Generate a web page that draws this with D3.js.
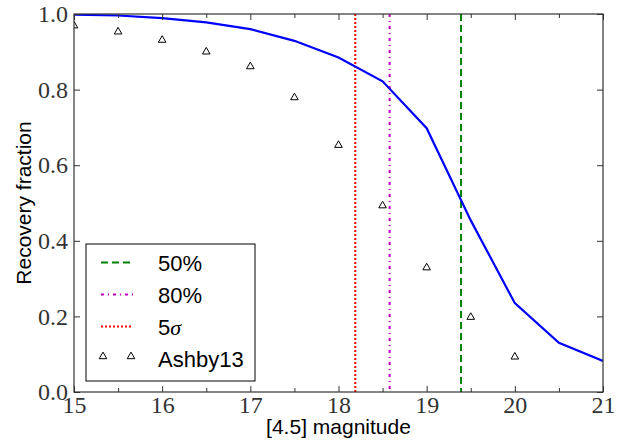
<!DOCTYPE html>
<html><head><meta charset="utf-8">
<script src="https://cdn.jsdelivr.net/npm/d3@7"></script>
<style>body{margin:0;background:#fff}</style>
</head><body>
<svg id="c" width="622" height="440"></svg>
<script>
// Data
const curveMag = [15, 15.5, 16, 16.5, 17, 17.5, 18, 18.5, 19, 19.5, 20, 20.5, 21];
const curveFrac = [0.998, 0.996, 0.989, 0.978, 0.960, 0.929, 0.885, 0.822, 0.698, 0.454, 0.235, 0.130, 0.082];
const ashbyMag = [15, 15.5, 16, 16.5, 17, 17.5, 18, 18.5, 19, 19.5, 20];
const ashbyFrac = [0.969, 0.953, 0.931, 0.900, 0.861, 0.779, 0.653, 0.493, 0.329, 0.198, 0.093];
const vlineNames = ["50%", "80%", "5σ"];
const vlineMag = [19.39, 18.58, 18.19];
const vlineColors = ["#008000", "#bf00bf", "#ff0000"];
const xTicks = [15, 16, 17, 18, 19, 20, 21];
const xMinor = [15.5, 16.5, 17.5, 18.5, 19.5, 20.5];
const yTicks = [0, 0.2, 0.4, 0.6, 0.8, 1.0];

const svg = d3.select("#c");
const L = 74, R = 603, T = 14, B = 392;
const x = d3.scaleLinear().domain([15, 21]).range([L, R]);
const y = d3.scaleLinear().domain([0, 1]).range([B, T]);

svg.append("defs").append("clipPath").attr("id", "clip")
  .append("rect").attr("x", L).attr("y", T).attr("width", R - L).attr("height", B - T);

const dashes = ["7,4", "3,4,1,4", "2,2"];
const plot = svg.append("g").attr("clip-path", "url(#clip)");

// vertical lines
vlineMag.forEach((m, i) => {
  plot.append("line").attr("x1", x(m)).attr("x2", x(m)).attr("y1", y(1)).attr("y2", y(0))
    .attr("stroke", vlineColors[i]).attr("stroke-width", 2).attr("stroke-dasharray", dashes[i]);
});

// curve
plot.append("path").datum(curveMag.map((m, i) => [m, curveFrac[i]]))
  .attr("fill", "none").attr("stroke", "#0000ff").attr("stroke-width", 2.2)
  .attr("d", d3.line().x(d => x(d[0])).y(d => y(d[1])));

// triangles
const tri = d3.symbol().type(d3.symbolTriangle).size(25);
plot.selectAll(".tri").data(ashbyMag.map((m, i) => [m, ashbyFrac[i]])).enter()
  .append("path").attr("d", tri)
  .attr("transform", d => `translate(${x(d[0])},${y(d[1])})`)
  .attr("fill", "none").attr("stroke", "#000").attr("stroke-width", 1);

// axes
const axCol = "#333";
const fontSerif = "'Liberation Serif', 'Times New Roman', serif";
function styleAxis(g, showLabels) {
  g.select(".domain").remove();
  g.selectAll("line").attr("stroke", axCol);
  g.selectAll("text").attr("font-family", fontSerif).attr("font-size", 24).attr("fill", "#333");
  if (!showLabels) g.selectAll("text").remove();
}
svg.append("g").attr("transform", `translate(0,${B})`)
  .call(d3.axisBottom(x).tickValues(xTicks).tickSize(-6).tickPadding(4).tickFormat(d3.format("d")))
  .call(g => styleAxis(g, true));
svg.append("g").attr("transform", `translate(0,${B})`)
  .call(d3.axisBottom(x).tickValues(xMinor).tickSize(-4).tickFormat(""))
  .call(g => styleAxis(g, false));
svg.append("g").attr("transform", `translate(0,${T})`)
  .call(d3.axisTop(x).tickValues(xTicks).tickSize(-6).tickFormat(""))
  .call(g => styleAxis(g, false));
svg.append("g").attr("transform", `translate(0,${T})`)
  .call(d3.axisTop(x).tickValues(xMinor).tickSize(-4).tickFormat(""))
  .call(g => styleAxis(g, false));
svg.append("g").attr("transform", `translate(${L},0)`)
  .call(d3.axisLeft(y).tickValues(yTicks).tickSize(-6).tickPadding(6).tickFormat(d3.format(".1f")))
  .call(g => styleAxis(g, true));
svg.append("g").attr("transform", `translate(${R},0)`)
  .call(d3.axisRight(y).tickValues(yTicks).tickSize(-6).tickFormat(""))
  .call(g => styleAxis(g, false));

svg.append("rect").attr("x", L).attr("y", T).attr("width", R - L).attr("height", B - T)
  .attr("fill", "none").attr("stroke", axCol).attr("stroke-width", 1.2);

// axis labels
const fontSans = "'Liberation Sans', Arial, Helvetica, sans-serif";
svg.append("text").attr("x", (L + R) / 2).attr("y", 434).attr("text-anchor", "middle")
  .attr("font-family", fontSans).attr("font-size", 21).attr("fill", "#000").text("[4.5] magnitude");
svg.append("text").attr("transform", `translate(31,${(T + B) / 2}) rotate(-90)`).attr("text-anchor", "middle")
  .attr("font-family", fontSans).attr("font-size", 21).attr("fill", "#000").text("Recovery fraction");

// legend
const lg = svg.append("g");
lg.append("rect").attr("x", 86).attr("y", 244).attr("width", 169).attr("height", 137)
  .attr("fill", "#fff").attr("stroke", "#000").attr("stroke-width", 1);
const legendNames = vlineNames.concat(["Ashby13"]);
legendNames.forEach((name, i) => {
  const cy = 262.5 + i * 32;
  if (i < 3) {
    lg.append("line").attr("x1", 101).attr("x2", 133).attr("y1", cy).attr("y2", cy)
      .attr("stroke", vlineColors[i]).attr("stroke-width", 2).attr("stroke-dasharray", dashes[i]);
  } else {
    [103, 131].forEach(px => lg.append("path").attr("d", tri)
      .attr("transform", `translate(${px},${cy - 2})`)
      .attr("fill", "none").attr("stroke", "#000").attr("stroke-width", 1));
  }
  const t = lg.append("text").attr("x", 158).attr("y", cy + 8)
    .attr("font-family", fontSans).attr("font-size", 22).attr("fill", "#000");
  if (name === "5σ") {
    t.append("tspan").text("5");
    t.append("tspan").attr("font-family", fontSerif).attr("font-style", "italic").text("σ");
  } else t.text(name);
});
</script>
</body></html>
